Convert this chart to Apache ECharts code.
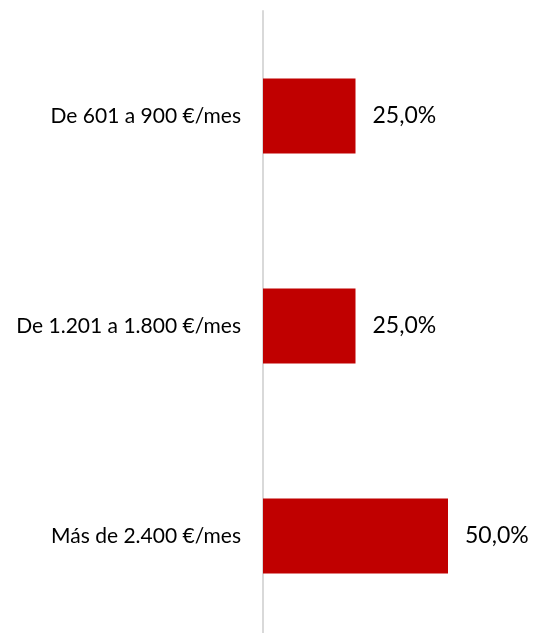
<!DOCTYPE html>
<html>
<head>
<meta charset="utf-8">
<script src="https://cdn.jsdelivr.net/npm/echarts@6/dist/echarts.min.js"></script>
<style>
  html, body { margin: 0; padding: 0; background: #fff; overflow: hidden; }
  #main { width: 535px; height: 660px; }
</style>
</head>
<body>
<div id="main"></div>
<script>
const categories = ["De 601 a 900 €/mes", "De 1.201 a 1.800 €/mes", "Más de 2.400 €/mes"];
const values = [25, 25, 50];

const chart = echarts.init(document.getElementById("main"));

const option = {
  animation: false,
  grid: { left: 263, right: 50, top: 11, height: 630, containLabel: false },
  xAxis: {
    type: "value",
    min: 0,
    max: 60,
    show: false,
  },
  yAxis: {
    type: "category",
    data: categories,
    inverse: true,
    axisLine: { show: true, lineStyle: { color: "#d9d9d9", width: 2 } },
    axisTick: { show: false },
    axisLabel: {
      margin: 22,
      color: "#000",
      fontSize: 21,
      fontFamily: "Lato",
    },
  },
  series: [
    {
      type: "bar",
      data: values,
      barWidth: 75,
      itemStyle: { color: "#c00000" },
      label: {
        show: true,
        position: "right",
        distance: 17,
        color: "#000",
        fontSize: 23,
        fontFamily: "Lato",
        formatter: (p) => p.value.toFixed(1).replace(".", ",") + "%",
      },
    },
  ],
};

chart.setOption(option);
</script>
</body>
</html>
